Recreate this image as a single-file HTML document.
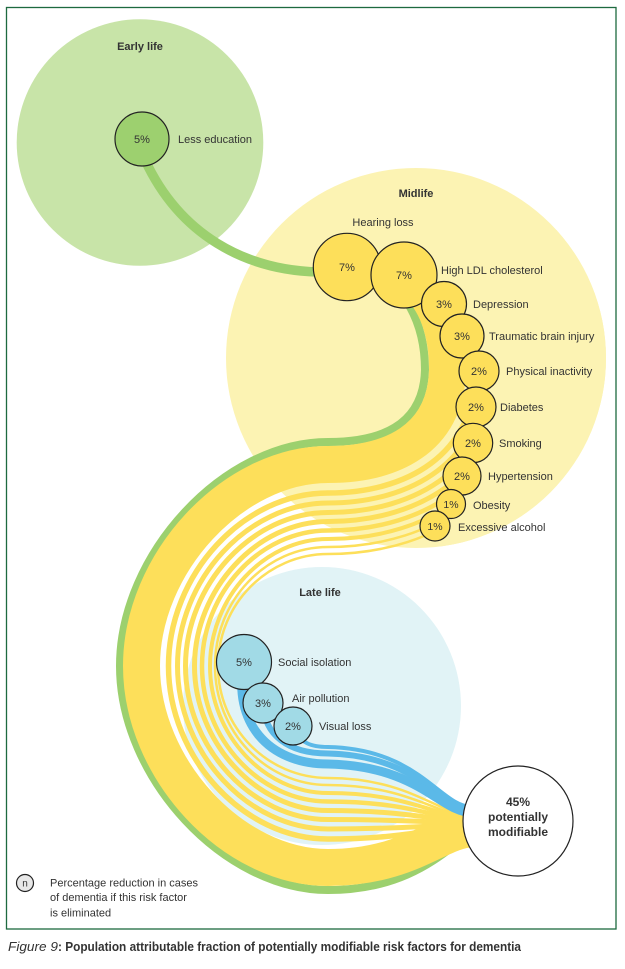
<!DOCTYPE html>
<html><head><meta charset="utf-8"><style>
html,body{margin:0;padding:0;background:#fff;}
svg{display:block;}
text{font-family:"Liberation Sans",Arial,sans-serif;fill:#333;}
</style></head><body>
<svg width="625" height="969" viewBox="0 0 625 969" xmlns="http://www.w3.org/2000/svg">
<defs><clipPath id="mc"><circle cx="416" cy="358" r="190"/></clipPath></defs>
<rect x="0" y="0" width="625" height="969" fill="#fff"/>

<!-- background circles -->
<circle cx="140" cy="142.5" r="123.3" fill="#c8e4a8"/>
<circle cx="416" cy="358" r="190" fill="#fcf3b3"/>
<circle cx="322" cy="706" r="139" fill="#e1f3f6"/>

<!-- green strand -->
<path d="M145,160 C180,235 245,270 318,272 C335,273 345,273 352,274" fill="none" stroke="#9cd06e" stroke-width="9.5"/>
<path d="M340,273 C365,274 398,288 410,307 C420,325 425,345 425,370 C423.5,427.6 377.6,442 328,442 C224,442 120,554 120,666 C120,778 224,890 328,890 C410,890 445,850 465,838" fill="none" stroke="#9cd06e" stroke-width="8"/>

<g fill="none" stroke="#fddf5a">
<!-- thick -->
<path d="M418,285 C440,305 448,340 447.5,370 C446,440 390,464.5 328,464.5 C232.9,464.5 141.5,563.2 141.5,666 C141.5,768.8 232.9,867.5 328,867.5 C410,867.5 440,829 472,829" stroke-width="37"/>
<path d="M444,304 C468,318 476,345 476,370 C474.5,455.7 405.7,493 328,493 C243.5,493 168.5,574.3 168.5,666 C168.5,757.7 243.5,839 328,839 C410,839 440,826 472,826" stroke-width="5.5"/>
<path d="M462,336 C478,343 486,355 486,370 C484.5,461.3 411.3,503 328,503 C248.2,503 177.5,579.6 177.5,666 C177.5,752.4 248.2,829 328,829 C410,829 440,824.5 472,824.5" stroke-width="5"/>
<path d="M479,371 L495.5,370 C494,466.5 416.5,512.5 328,512.5 C252.5,512.5 185.5,584.6 185.5,666 C185.5,747.4 252.5,819.5 328,819.5 C410,819.5 440,823 472,823" stroke-width="5"/>
<path d="M504.5,370 C503,471.5 421.5,521.5 328,521.5 C257.2,521.5 194.5,589.4 194.5,666 C194.5,742.6 257.2,810.5 328,810.5 C410,810.5 440,821.5 472,821.5" stroke-width="5"/>
<path d="M513.5,370 C512,476.4 426.4,530.5 328,530.5 C260,530.5 202,592.8 202,666 C202,739.2 260,801.5 328,801.5 C410,801.5 440,820 472,820" stroke-width="4.5"/>
<path d="M522,370 C520.5,481.1 431.1,539 328,539 C264.3,539 210,597.4 210,666 C210,734.6 264.3,793 328,793 C410,793 440,818.5 472,818.5" stroke-width="4"/>
<path d="M530,370 C528.5,485.5 435.5,547 328,547 C265.8,547 215,600.5 215,666 C215,731.5 265.8,785 328,785 C410,785 440,817 472,817" stroke-width="2.5"/>
<path d="M537,370 C535.5,489.4 439.4,554 328,554 C267.5,554 218,604.4 218,666 C218,727.6 267.5,778 328,778 C410,778 440,815.5 472,815.5" stroke-width="2.5"/>
</g>

<!-- mask right of midlife node column -->
<path d="M404,230 L444,304 L462,336 L479,371 L476,407 L473,443 L462,476 L451,504 L435,526 L445,575 L625,575 L625,230 Z" fill="#fcf3b3" clip-path="url(#mc)"/>

<!-- blue strands -->
<g fill="none" stroke="#5bb9e8">
<path d="M293,726 C300,744 312,747 328,747 C420,749 440,807 472,807" stroke-width="4"/>
<path d="M263,703 C264,735 288,753.5 328,753.5 C420,755.5 440,809.5 472,809.5" stroke-width="6"/>
<path d="M244,662 C232,722 268,764 328,764 C420,766 440,812.5 472,812.5" stroke-width="9"/>
</g>

<!-- nodes -->
<g stroke="#222" stroke-width="1.2">
<circle cx="142" cy="139" r="27" fill="#9dd06f"/>
<g fill="#fddf5a">
<circle cx="347" cy="267" r="33.7"/>
<circle cx="404" cy="275" r="33"/>
<circle cx="444" cy="304" r="22.5"/>
<circle cx="462" cy="336" r="22"/>
<circle cx="479" cy="371" r="20"/>
<circle cx="476" cy="407" r="20"/>
<circle cx="473" cy="443" r="19.7"/>
<circle cx="462" cy="476" r="19"/>
<circle cx="451" cy="504" r="14.5"/>
<circle cx="435" cy="526" r="15"/>
</g>
<g fill="#a1dae6">
<circle cx="244" cy="662" r="27.5"/>
<circle cx="263" cy="703" r="20"/>
<circle cx="293" cy="726" r="19"/>
</g>
<circle cx="518" cy="821" r="55" fill="#fff"/>
<circle cx="25" cy="883" r="8.5" fill="#e8e8e8"/>
</g>

<!-- labels -->
<g font-size="11">
<text x="140" y="50" text-anchor="middle" font-weight="bold">Early life</text>
<text x="142" y="143" text-anchor="middle">5%</text>
<text x="178" y="143">Less education</text>

<text x="416" y="197" text-anchor="middle" font-weight="bold">Midlife</text>
<text x="383" y="226" text-anchor="middle">Hearing loss</text>
<text x="347" y="271" text-anchor="middle">7%</text>
<text x="404" y="279" text-anchor="middle">7%</text>
<text x="441" y="274">High LDL cholesterol</text>
<text x="444" y="308" text-anchor="middle">3%</text>
<text x="473" y="308">Depression</text>
<text x="462" y="340" text-anchor="middle">3%</text>
<text x="489" y="340">Traumatic brain injury</text>
<text x="479" y="375" text-anchor="middle">2%</text>
<text x="506" y="375">Physical inactivity</text>
<text x="476" y="411" text-anchor="middle">2%</text>
<text x="500" y="411">Diabetes</text>
<text x="473" y="447" text-anchor="middle">2%</text>
<text x="499" y="447">Smoking</text>
<text x="462" y="480" text-anchor="middle">2%</text>
<text x="488" y="480">Hypertension</text>
<text x="451" y="508" text-anchor="middle" font-size="10.5">1%</text>
<text x="473" y="509">Obesity</text>
<text x="435" y="530" text-anchor="middle" font-size="10.5">1%</text>
<text x="458" y="531">Excessive alcohol</text>

<text x="320" y="596" text-anchor="middle" font-weight="bold">Late life</text>
<text x="244" y="666" text-anchor="middle">5%</text>
<text x="278" y="666">Social isolation</text>
<text x="263" y="707" text-anchor="middle">3%</text>
<text x="292" y="702">Air pollution</text>
<text x="293" y="730" text-anchor="middle">2%</text>
<text x="319" y="730">Visual loss</text>

<text x="25" y="886.5" text-anchor="middle" font-size="10">n</text>
<text x="50" y="886.5">Percentage reduction in cases</text>
<text x="50" y="901">of dementia if this risk factor</text>
<text x="50" y="916.5">is eliminated</text>
</g>
<g font-size="12" font-weight="bold" text-anchor="middle">
<text x="518" y="806">45%</text>
<text x="518" y="821">potentially</text>
<text x="518" y="836">modifiable</text>
</g>

<!-- frame -->
<rect x="6.5" y="7.5" width="609.5" height="921.5" fill="none" stroke="#1d6a3f" stroke-width="1.3"/>

<!-- caption -->
<text x="8" y="951" font-size="12.5" font-style="italic" textLength="50" lengthAdjust="spacingAndGlyphs">Figure 9</text>
<text x="58" y="951" font-size="12.5" font-weight="bold" textLength="463" lengthAdjust="spacingAndGlyphs">: Population attributable fraction of potentially modifiable risk factors for dementia</text>
</svg>
</body></html>
